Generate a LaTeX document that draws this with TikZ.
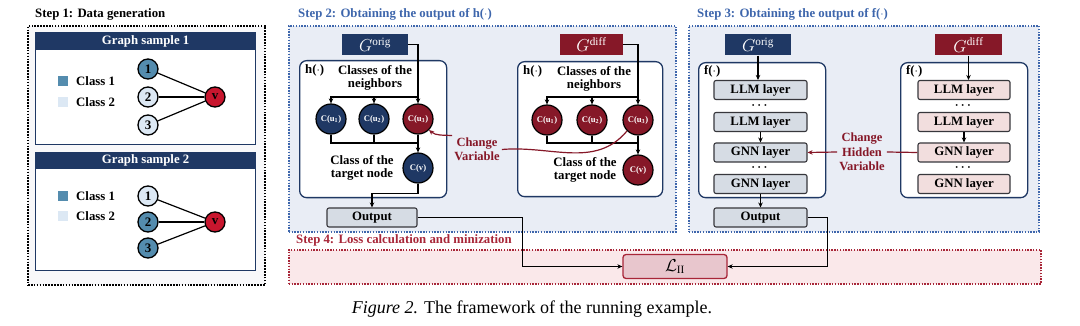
\documentclass[tikz,border=0pt]{standalone}
\usepackage{fontspec}
\setmainfont{Liberation Serif}
\usepackage{amsmath}
\definecolor{navyblue}{RGB}{31, 56, 100}
\definecolor{darkred}{RGB}{134, 24, 40}
\definecolor{vred}{RGB}{200, 22, 46}
\definecolor{classone}{RGB}{84, 140, 174}
\definecolor{classtwo}{RGB}{220, 232, 244}
\definecolor{stepblue}{RGB}{62, 102, 172}
\definecolor{panelfill}{RGB}{233, 237, 245}
\definecolor{onefill}{RGB}{248, 248, 250}
\definecolor{lossred}{RGB}{168, 38, 56}
\definecolor{lossfill}{RGB}{250, 232, 234}
\definecolor{losspink}{RGB}{232, 198, 205}
\definecolor{layergray}{RGB}{214, 220, 228}
\definecolor{layerpink}{RGB}{242, 222, 222}
\definecolor{outline}{RGB}{55, 55, 60}
\usepackage{tikz}
\usetikzlibrary{positioning, arrows.meta, calc}

\begin{document}
\begin{tikzpicture}[x=1pt, y=-1pt, >={Stealth[length=5pt, width=4.5pt]},
    every node/.style={font=\bfseries\fontsize{12.8}{13}\selectfont},
    panel/.style={rectangle, anchor=north west, line width=1.6pt, dash pattern=on 1.4pt off 1.4pt, inner sep=0pt},
    steptitle/.style={anchor=west, inner sep=0pt},
    samplebox/.style={rectangle, draw=navyblue, fill=white, line width=1.2pt, anchor=north west, inner sep=0pt},
    sampletitle/.style={rectangle, fill=navyblue, text=white, anchor=north, inner sep=0pt},
    gnode/.style={circle, draw=black, line width=1.3pt, minimum size=20pt, inner sep=0pt, font=\bfseries\fontsize{13}{13}\selectfont},
    legsq/.style={rectangle, minimum size=10pt, inner sep=0pt},
    gbox/.style={rectangle, text=white, minimum width=66pt, minimum height=21pt, inner sep=0pt, font=\fontsize{16}{16}\selectfont},
    funcbox/.style={rectangle, draw=navyblue, fill=white, line width=1.3pt, rounded corners=7pt, anchor=north west, inner sep=0pt},
    cnode/.style={circle, draw=black, line width=1.2pt, minimum size=30pt, inner sep=0pt, text=white, font=\bfseries\fontsize{8.6}{9}\selectfont},
    layerbox/.style={rectangle, draw=outline, line width=1.1pt, rounded corners=2pt, minimum width=93pt, minimum height=19pt, inner sep=0pt},
    conn/.style={line width=1.2pt},
    chgtext/.style={text=darkred, align=center, inner sep=2pt, font=\bfseries\fontsize{12.5}{14.5}\selectfont}]
    \useasboundingbox (0,0) rectangle (1080,326);

    % panels
    \node [panel, draw=black, fill=onefill, line width=2pt, dash pattern=on 1.6pt off 1.3pt, minimum width=237pt, minimum height=259pt] (stepone) at (27,25) {};
    \node [steptitle] (steponet) at (35,14) {Step 1: Data generation};
    \node [panel, draw=stepblue, fill=panelfill, minimum width=387pt, minimum height=206pt] (steptwo) at (288,25) {};
    \node [steptitle, text=stepblue] (steptwot) at (298,14) {Step 2: Obtaining the output of h($\cdot$)};
    \node [panel, draw=stepblue, fill=panelfill, minimum width=350pt, minimum height=206pt] (stepthree) at (688,25) {};
    \node [steptitle, text=stepblue] (stepthreet) at (697,14) {Step 3: Obtaining the output of f($\cdot$)};
    \node [panel, draw=lossred, fill=lossfill, minimum width=752pt, minimum height=34pt] (stepfour) at (288,249) {};
    \node [steptitle, text=lossred] (stepfourt) at (296,240) {Step 4: Loss calculation and minization};

    % step 1: graph samples
    \node [samplebox, minimum width=220pt, minimum height=112pt] (sampleone) at (35,32) {};
    \node [sampletitle, minimum width=220pt, minimum height=18pt] (sampleonet) at (sampleone.north) {Graph sample 1};
    \node [legsq, fill=classone] (sqa) at (63,81) {};
    \node [legsq, fill=classtwo] (sqb) at (63,102) {};
    \node [anchor=west, inner sep=0pt] (lga) at (76,81) {Class 1};
    \node [anchor=west, inner sep=0pt] (lgb) at (76,102) {Class 2};
    \node [gnode, fill=classone] (na) at (148,69) {1};
    \node [gnode, fill=classtwo] (nb) at (148,97) {2};
    \node [gnode, fill=classtwo] (nc) at (148,125) {3};
    \node [gnode, fill=vred] (nv) at (215,97) {v};
    \draw [conn] (na) -- (nv);
    \draw [line width=1.9pt] (nb) -- (nv);
    \draw [conn] (nc) -- (nv);

    \node [samplebox, minimum width=220pt, minimum height=118pt] (sampletwo) at (35,152) {};
    \node [sampletitle, minimum width=220pt, minimum height=17pt] (sampletwot) at (sampletwo.north) {Graph sample 2};
    \node [legsq, fill=classone] (sqc) at (63,196) {};
    \node [legsq, fill=classtwo] (sqd) at (63,216) {};
    \node [anchor=west, inner sep=0pt] (lgc) at (76,196) {Class 1};
    \node [anchor=west, inner sep=0pt] (lgd) at (76,216) {Class 2};
    \node [gnode, fill=classtwo] (nd) at (148,196) {1};
    \node [gnode, fill=classone] (ne) at (148,222) {2};
    \node [gnode, fill=classone] (nf) at (148,248) {3};
    \node [gnode, fill=vred] (nw) at (215,222) {v};
    \draw [conn] (nd) -- (nw);
    \draw [line width=1.9pt] (ne) -- (nw);
    \draw [conn] (nf) -- (nw);

    % step 2: h on the original graph
    \node [gbox, fill=navyblue] (gorigh) at (375,44.5) {$G^{\mathrm{orig}}$};
    \node [funcbox, minimum width=147pt, minimum height=137pt] (hboxl) at (299,60) {};
    \node [anchor=west, inner sep=0pt] (hlabl) at (305,70) {h($\cdot$)};
    \node [align=center, inner sep=0pt] (nbrl) at (375,78) {Classes of the\\neighbors};
    \node [cnode, fill=navyblue] (cua) at (331,119) {C(u\textsubscript{1})};
    \node [cnode, fill=navyblue] (cub) at (374,119) {C(u\textsubscript{2})};
    \node [cnode, fill=darkred] (cuc) at (418,119) {C(u\textsubscript{3})};
    \node [cnode, fill=navyblue] (cvl) at (418,168) {C(v)};
    \node [align=center, inner sep=0pt] (tgtl) at (362,168) {Class of the\\target node};
    \node [layerbox, fill=layergray, minimum width=90pt] (outh) at (372,217.5) {Output};
    \coordinate (brl) at (418,97);
    \coordinate (jnl) at (418,143);
    \draw [conn, ->] (gorigh.east) -| (cuc.north);
    \draw [conn, ->] (brl) -| (cua.north);
    \draw [conn, ->] (cub.north |- brl) -- (cub.north);
    \draw [conn] (cua.south) |- (jnl);
    \draw [conn] (cub.south) -- (cub.south |- jnl);
    \draw [conn, ->] (cuc.south) -- (cvl.north);
    \draw [conn, ->] (cvl.south) -- ++(0,10) -| (outh.north);

    % step 2: h on the changed graph
    \node [gbox, fill=darkred, minimum width=63pt] (gdiffh) at (591.5,44.5) {$G^{\mathrm{diff}}$};
    \node [funcbox, minimum width=145pt, minimum height=135pt] (hboxr) at (517,61) {};
    \node [anchor=west, inner sep=0pt] (hlabr) at (523,71) {h($\cdot$)};
    \node [align=center, inner sep=0pt] (nbrr) at (594,79) {Classes of the\\neighbors};
    \node [cnode, fill=darkred] (cud) at (547,120) {C(u\textsubscript{1})};
    \node [cnode, fill=darkred] (cue) at (592,120) {C(u\textsubscript{2})};
    \node [cnode, fill=darkred] (cuf) at (638,120) {C(u\textsubscript{3})};
    \node [cnode, fill=darkred] (cvr) at (638,170) {C(v)};
    \node [align=center, inner sep=0pt] (tgtr) at (585,170) {Class of the\\target node};
    \coordinate (brr) at (638,97);
    \coordinate (jnr) at (638,143);
    \draw [conn, ->] (gdiffh.east) -| (cuf.north);
    \draw [conn, ->] (brr) -| (cud.north);
    \draw [conn, ->] (cue.north |- brr) -- (cue.north);
    \draw [conn] (cud.south) |- (jnr);
    \draw [conn] (cue.south) -- (cue.south |- jnr);
    \draw [conn, ->] (cuf.south) -- (cvr.north);

    \node [chgtext] (chgv) at (477,149.5) {Change\\Variable};
    \draw [conn, darkred] (cuf.south west) to[out=-130, in=5] (chgv.east);
    \draw [conn, darkred, ->] (chgv.north west) to[out=175, in=-40] (cuc.south east);

    % step 3: f on both graphs
    \node [gbox, fill=navyblue] (gorigf) at (758,45) {$G^{\mathrm{orig}}$};
    \node [funcbox, minimum width=127pt, minimum height=135pt] (fboxl) at (698,62) {};
    \node [anchor=west, inner sep=0pt] (flabl) at (704,71) {f($\cdot$)};
    \node [layerbox, fill=layergray] (llmal) at (760.5,90) {LLM layer};
    \node [inner sep=0pt] (dotal) at (760.5,106) {$\boldsymbol{\cdots}$};
    \node [layerbox, fill=layergray] (llmbl) at (760.5,122) {LLM layer};
    \node [layerbox, fill=layergray] (gnnal) at (760.5,152.5) {GNN layer};
    \node [inner sep=0pt] (dotbl) at (760.5,168) {$\boldsymbol{\cdots}$};
    \node [layerbox, fill=layergray] (gnnbl) at (760.5,184) {GNN layer};
    \node [layerbox, fill=layergray] (outf) at (760.5,217.5) {Output};
    \draw [conn, ->] (gorigf.south) -- (gorigf.south |- llmal.north);
    \draw [conn, ->] (llmbl.south) -- (gnnal.north);
    \draw [conn, ->] (gnnbl.south) -- (outf.north);

    \node [gbox, fill=darkred, minimum width=67pt] (gdifff) at (968.5,45) {$G^{\mathrm{diff}}$};
    \node [funcbox, minimum width=127pt, minimum height=135pt] (fboxr) at (900,62) {};
    \node [anchor=west, inner sep=0pt] (flabr) at (906,71) {f($\cdot$)};
    \node [layerbox, fill=layerpink, minimum width=92pt] (llmar) at (964,90) {LLM layer};
    \node [inner sep=0pt] (dotar) at (964,106) {$\boldsymbol{\cdots}$};
    \node [layerbox, fill=layerpink, minimum width=92pt] (llmbr) at (964,122) {LLM layer};
    \node [layerbox, fill=layerpink, minimum width=92pt] (gnnar) at (964,152.5) {GNN layer};
    \node [inner sep=0pt] (dotbr) at (964,168) {$\boldsymbol{\cdots}$};
    \node [layerbox, fill=layerpink, minimum width=92pt] (gnnbr) at (964,184) {GNN layer};
    \draw [conn, ->] (gdifff.south) -- (gdifff.south |- llmar.north);
    \draw [conn, ->] (llmbr.south) -- (gnnar.north);

    \node [chgtext] (chgh) at (862,152) {Change\\Hidden\\Variable};
    \draw [conn, darkred] (gnnar.west) -- (chgh.east);
    \draw [conn, darkred, ->] (chgh.west) -- (gnnal.east);

    % step 4: loss
    \node [rectangle, draw=lossred, fill=losspink, line width=1.3pt, rounded corners=3pt, minimum width=104pt, minimum height=24pt, inner sep=0pt, font=\fontsize{16}{16}\selectfont] (loss) at (675,266.5) {$\mathcal{L}_{\mathrm{II}}$};
    \draw [conn, ->] (outh.east) -- ++(105,0) |- (loss.west);
    \draw [conn, ->] (outf.east) -- ++(20,0) |- (loss.east);

    % caption
    \node [font=\fontsize{18}{18}\selectfont, inner sep=0pt] (caption) at (532,309) {\textit{Figure 2.} The framework of the running example.};
\end{tikzpicture}
\end{document}
